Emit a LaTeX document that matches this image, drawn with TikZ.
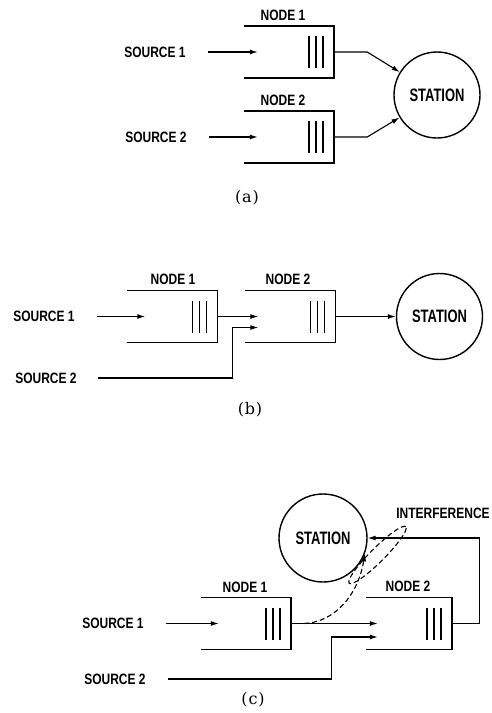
\documentclass[tikz,border=0pt]{standalone}
\usepackage{fontspec}
\usetikzlibrary{arrows.meta,shapes.geometric}
\newfontfamily\lblfont[FakeStretch=0.8]{Liberation Sans}
\newfontfamily\stfont[FakeStretch=0.72]{Liberation Sans}
\newfontfamily\capfont[LetterSpace=5]{DejaVu Serif}
\tikzset{
  lbl/.style={font=\lblfont\bfseries\fontsize{15}{15}\selectfont, inner sep=0pt},
  station/.style={circle, draw, line width=1.4pt, minimum size=86pt, inner sep=0pt,
    font=\stfont\bfseries\fontsize{18}{18}\selectfont},
  queue/.style={rectangle, minimum width=90pt, minimum height=52pt, inner sep=0pt},
  qline/.style={line width=1.5pt},
  arr/.style={line width=1.1pt, -{Latex[length=8pt,width=5pt]}},
  dsh/.style={dash pattern=on 5pt off 3pt},
  capt/.style={font=\capfont\fontsize{16}{16}\selectfont, inner sep=0pt}
}
\begin{document}
\begin{tikzpicture}[x=1pt,y=-1pt]
\useasboundingbox (0,0) rectangle (491,713);
% ---------- (a)
\node[queue] (qa1) at (289,52) {};
\node[queue] (qa2) at (289,137) {};
\node[lbl] (na1) at (283,15) {NODE 1};
\node[lbl] (na2) at (283,100) {NODE 2};
\node[lbl] (sa1) at (155,52) {SOURCE 1};
\node[lbl] (sa2) at (156,137) {SOURCE 2};
\node[station] (sta) at (437,95) {STATION};
\node[capt] (ca) at (247,198) {(a)};
\draw[arr] ([xshift=22pt]sa1.east) -- ([xshift=14pt]qa1.west);
\draw[arr] ([xshift=22pt]sa2.east) -- ([xshift=14pt]qa2.west);
\draw[arr] (qa1.east) -- ++(33,0) -- (sta);
\draw[arr] (qa2.east) -- ++(33,0) -- (sta);
% ---------- (b)
\node[queue] (qb1) at (172.5,316.5) {};
\node[queue] (qb2) at (290.5,316.5) {};
\node[lbl] (nb1) at (173,279) {NODE 1};
\node[lbl] (nb2) at (288,279) {NODE 2};
\node[lbl] (sb1) at (44,316.5) {SOURCE 1};
\node[lbl] (sb2) at (46,378) {SOURCE 2};
\node[station] (stb) at (439.5,316.5) {STATION};
\node[capt] (cb) at (250,410) {(b)};
\draw[arr] ([xshift=22pt]sb1.east) -- ([xshift=18pt]qb1.west);
\draw[arr] (qb1.east) -- ([xshift=13pt]qb2.west);
\draw[arr] ([xshift=21pt]sb2.east) -| ([xshift=-13pt,yshift=-11pt]qb2.west) -- ([xshift=13pt,yshift=-11pt]qb2.west);
\draw[arr] (qb2.east) -- (stb);
% ---------- (c)
\node[queue] (qc1) at (246,623.5) {};
\node[queue,minimum width=86pt] (qc2) at (409,623.5) {};
\node[lbl] (nc1) at (245,587) {NODE 1};
\node[lbl] (nc2) at (408,586) {NODE 2};
\node[lbl] (sc1) at (113,623.5) {SOURCE 1};
\node[lbl] (sc2) at (115,679) {SOURCE 2};
\node[station, minimum size=88pt] (stc) at (323,538) {STATION};
\node[lbl] (intl) at (443,513) {INTERFERENCE};
\node[draw, dsh, ellipse, minimum width=80pt, minimum height=14pt, inner sep=0pt, rotate=45, line width=1.1pt] (intf) at (377.5,555) {};
\node[capt] (cc) at (253,700) {(c)};
\draw[arr] ([xshift=22pt]sc1.east) -- ([xshift=18pt]qc1.west);
\draw[arr] (qc1.east) -- ([xshift=12pt]qc2.west);
\draw[arr] ([xshift=22pt]sc2.east) -| ([xshift=-34pt,yshift=-13.5pt]qc2.west) -- ([xshift=12pt,yshift=-13.5pt]qc2.west);
\draw[arr] (qc2.east) -- ++(27,0) |- (stc);
\coordinate (tap) at ([xshift=13pt]qc1.east);
\draw[arr, dsh] (tap) .. controls (335,622) and (358,595) .. (stc.-20);
% ---------- queue boxes
\foreach \q in {qa1,qa2,qb1,qb2,qc1,qc2} {
  \draw[qline] (\q.north west) -- (\q.north east) -- (\q.south east) -- (\q.south west);
  \foreach \dx in {25,18,11}
    \draw[qline] ([xshift=-\dx pt,yshift=16pt]\q.east) -- ([xshift=-\dx pt,yshift=-16pt]\q.east);
}
\end{tikzpicture}
\end{document}
